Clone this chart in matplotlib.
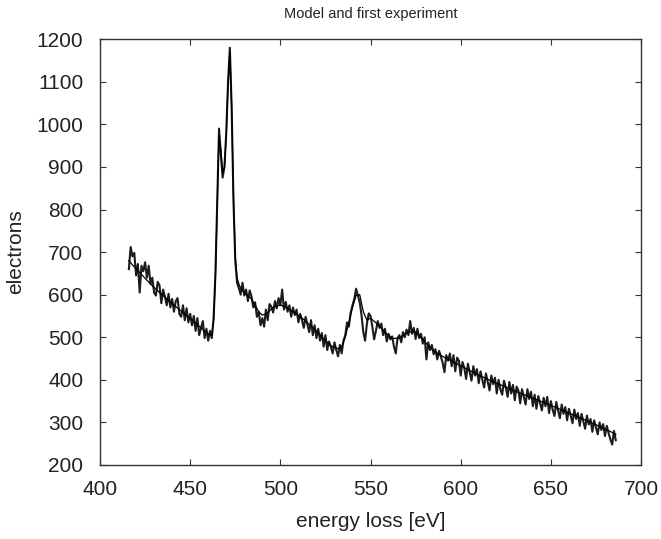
import numpy as np
from matplotlib import pyplot as plt

plt.rcParams['font.family'] = ['Liberation Sans', 'DejaVu Sans']

# measured spectrum, one channel per eV (416 .. 686 eV)
exp_ev = np.arange(416, 687)
exp_counts = [
    660, 712, 690, 698, 645, 672, 605, 668, 655, 676,
    640, 668, 625, 640, 605, 598, 630, 622, 580, 612,
    595, 575, 602, 570, 590, 560, 585, 592, 555, 548,
    575, 540, 568, 535, 555, 528, 550, 515, 545, 505,
    522, 538, 498, 520, 492, 515, 498, 545, 650, 820,
    990, 930, 875, 900, 980, 1100, 1180, 1040, 820, 680,
    628, 615, 600, 628, 598, 612, 585, 610, 596, 570,
    582, 548, 560, 528, 545, 525, 565, 540, 578, 572,
    558, 585, 568, 592, 575, 612, 565, 583, 560, 575,
    548, 570, 552, 565, 535, 555, 540, 522, 548, 530,
    512, 540, 505, 528, 498, 520, 492, 510, 478, 505,
    470, 490, 478, 462, 488, 470, 455, 482, 462, 492,
    505, 535, 525, 558, 575, 590, 614, 598, 582, 552,
    512, 492, 532, 556, 550, 525, 495, 515, 538, 522,
    532, 505, 520, 490, 508, 495, 502, 478, 462, 498,
    505, 488, 512, 500, 518, 505, 538, 508, 522, 496,
    520, 498, 508, 485, 500, 448, 488, 470, 482, 460,
    472, 448, 468, 455, 440, 418, 458, 445, 462, 432,
    458, 420, 452, 445, 410, 442, 428, 402, 438, 418,
    398, 432, 410, 425, 392, 420, 400, 382, 415, 395,
    375, 410, 390, 405, 368, 400, 378, 365, 398, 382,
    360, 395, 368, 388, 352, 384, 375, 345, 378, 360,
    342, 378, 355, 372, 338, 365, 332, 362, 346, 328,
    358, 338, 360, 322, 350, 330, 315, 348, 328, 310,
    342, 320, 336, 305, 332, 316, 298, 330, 308, 322,
    292, 320, 302, 285, 316, 295, 308, 278, 305, 288,
    272, 300, 282, 296, 268, 292, 275, 260, 248, 280, 258,
]

# model curve
model_ev = [416, 418, 420, 424, 428, 432, 436, 440, 444, 448, 452, 456, 460, 462,
            463, 464, 465, 466, 467, 468, 469, 470, 471, 472, 473, 474, 475, 476, 477,
            478, 480, 484, 486, 488, 490, 492, 494, 496, 500, 504, 508, 512, 516,
            520, 524, 528, 532, 534, 536, 538, 540, 542, 544, 546, 548, 550, 554,
            558, 562, 566, 570, 574, 578, 582, 586, 590, 600, 610, 620, 630, 640,
            650, 660, 670, 680, 686]
model_counts = [680, 670, 661, 643, 625, 609, 594, 579, 565, 551, 537, 522, 508, 504,
                540, 640, 810, 975, 940, 885, 900, 975, 1095, 1170, 1040, 830, 690, 640, 625,
                615, 605, 590, 575, 560, 552, 555, 562, 570, 576, 568, 557, 545, 530,
                515, 496, 480, 473, 478, 500, 535, 570, 598, 600, 560, 540, 545, 530,
                512, 497, 498, 510, 515, 500, 480, 465, 455, 433, 411, 392, 374, 357,
                340, 322, 304, 285, 272]

fig = plt.figure(figsize=(6.61, 5.39), dpi=100)
ax = fig.add_axes([0.1513, 0.1373, 0.8185, 0.790])
ax.plot(exp_ev, exp_counts, color='#1c1c1c', lw=1.5)
ax.plot(model_ev, model_counts, color='black', lw=0.9)

ax.set_xlim(400, 700)
ax.set_ylim(200, 1200)
ax.set_xticks(range(400, 701, 50))
ax.set_yticks(range(200, 1201, 100))
ax.tick_params(direction='in', top=True, right=True, length=4, width=0.8,
               labelsize=15, colors='#333333', labelcolor='#222222')
ax.tick_params(axis='y', pad=12)
ax.tick_params(axis='x', pad=11)
for s in ax.spines.values():
    s.set_linewidth(1)
    s.set_color('#333333')

ax.set_title("Model and first experiment", fontsize=10.5, pad=15, color='#222222')
ax.set_xlabel("energy loss [eV]", fontsize=15, labelpad=9, color='#222222')
ax.set_ylabel("electrons", fontsize=15, labelpad=8, color='#222222')

plt.savefig('out.png')
